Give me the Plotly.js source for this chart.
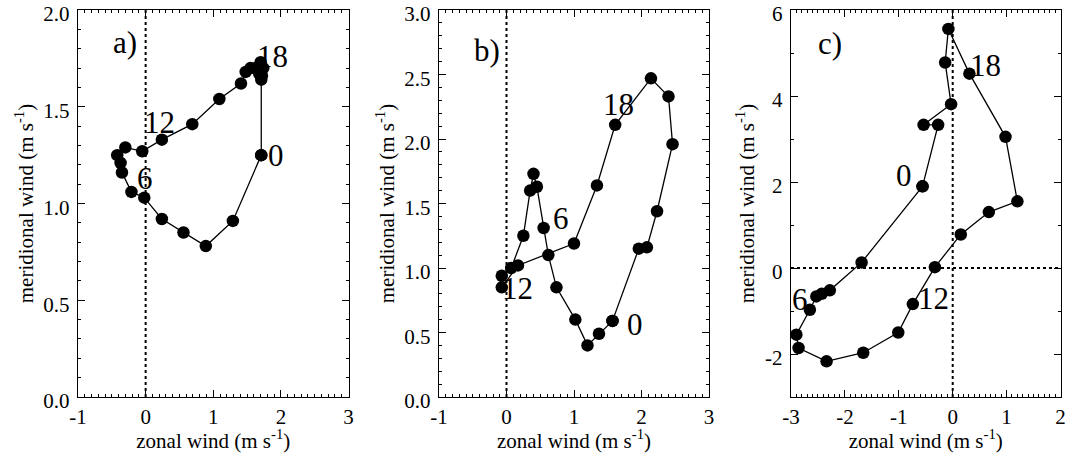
<!DOCTYPE html>
<html>
<head>
<meta charset="utf-8">
<script src="https://cdn.plot.ly/plotly-3.0.1.min.js"></script>
<style>
html,body{margin:0;padding:0;background:#fff;}
#chart{width:1065px;height:453px;}
</style>
</head>
<body>
<div id="chart"></div>
<script>
// Panel a) hourly wind hodograph (hour 0..23)
const aU = [1.71,1.29,0.89,0.56,0.24,-0.02,-0.21,-0.35,-0.37,-0.42,-0.30,-0.05,0.24,0.69,1.09,1.41,1.48,1.55,1.63,1.70,1.74,1.68,1.72,1.71];
const aV = [1.25,0.91,0.78,0.85,0.92,1.03,1.06,1.16,1.21,1.25,1.29,1.27,1.33,1.41,1.54,1.62,1.68,1.70,1.70,1.73,1.70,1.67,1.66,1.64];
// Panel b)
const bU = [1.57,1.37,1.20,1.02,0.74,0.62,0.55,0.45,0.40,0.35,0.25,0.07,-0.07,-0.07,0.17,1.00,1.34,1.61,2.14,2.40,2.46,2.23,2.08,1.96];
const bV = [0.59,0.49,0.40,0.60,0.85,1.10,1.31,1.63,1.73,1.60,1.25,1.00,0.94,0.85,1.02,1.19,1.64,2.11,2.47,2.33,1.96,1.44,1.16,1.15];
// Panel c)
const cU = [-0.56,-1.69,-2.28,-2.43,-2.53,-2.65,-2.90,-2.86,-2.34,-1.66,-1.01,-0.74,-0.33,0.15,0.67,1.20,0.98,0.31,-0.08,-0.14,-0.03,-0.54,-0.27];
const cV = [1.90,0.13,-0.52,-0.60,-0.66,-0.97,-1.55,-1.86,-2.17,-1.97,-1.50,-0.84,0.02,0.78,1.30,1.55,3.05,4.52,5.56,4.78,3.81,3.33,3.33];

// Hour labels and their positions (data units)
const hourText = ["0","6","12","18"];
const aLabU = [1.93,-0.015,0.21,1.88], aLabV = [1.25,1.13,1.42,1.76];
const bLabU = [1.91,0.81,0.17,1.66],  bLabV = [0.565,1.38,0.845,2.27];
const cLabU = [-0.90,-2.84,-0.36,0.60], cLabV = [2.14,-0.74,-0.70,4.72];

// Tick values and labels
const abXTicks = [-1,0,1,2,3], abXText = ["-1","0","1","2","3"];
const cXTicks = [-3,-2,-1,0,1,2], cXText = ["-3","-2","-1","0","1","2"];
const aYTicks = [0,0.5,1,1.5,2], aYText = ["0.0","0.5","1.0","1.5","2.0"];
const bYTicks = [0,0.5,1,1.5,2,2.5,3], bYText = ["0.0","0.5","1.0","1.5","2.0","2.5","3.0"];
const cYTicks = [-2,0,2,4,6], cYText = ["-2","0","2","4","6"];

const panelNames = ["a)","b)","c)"];
const xTitle = "zonal wind (m s<sup>-1</sup>)";
const yTitle = "meridional wind (m s<sup>-1</sup>)";

const FONT = "Liberation Serif, Times New Roman, serif";
const close = arr => arr.concat([arr[0]]);

function hodo(u, v, xa, ya) {
  return {x: close(u), y: close(v), xaxis: xa, yaxis: ya, type: 'scatter', mode: 'lines+markers',
    line: {color: '#000', width: 1.3}, marker: {color: '#000', size: 12.5}, hoverinfo: 'skip', showlegend: false,
    cliponaxis: false};
}
const data = [hodo(aU,aV,'x','y'), hodo(bU,bV,'x2','y2'), hodo(cU,cV,'x3','y3')];

const shapes = [];
['x','x2','x3'].forEach(ax => {
  shapes.push({type:'line', xref: ax, yref: (ax==='x'?'y':'y'+ax.slice(1)) + ' domain', x0:0, x1:0, y0:0, y1:1,
    line:{color:'#000', width:2, dash:'dot'}, layer:'below'});
});
shapes.push({type:'line', xref:'x3 domain', yref:'y3', x0:0, x1:1, y0:0, y1:0, line:{color:'#000', width:2, dash:'dot'}, layer:'below'});

const annotations = [];
function addLabels(U, V, xa, ya) {
  hourText.forEach((t,i) => annotations.push({x: U[i], y: V[i], xref: xa, yref: ya, text: t, showarrow: false,
    xanchor: 'center', yanchor: 'middle', font:{family: FONT, size: 31, color:'#000'}}));
}
addLabels(aLabU, aLabV, 'x', 'y');
addLabels(bLabU, bLabV, 'x2', 'y2');
addLabels(cLabU, cLabV, 'x3', 'y3');
const panelPos = [[0.174,0.917],[0.177,0.896],[0.144,0.914]];
['x','x2','x3'].forEach((ax,i) => annotations.push({x: panelPos[i][0], y: panelPos[i][1], xref: ax+' domain',
  yref: (i===0?'y':'y'+(i+1))+' domain', text: panelNames[i], showarrow:false, xanchor:'center', yanchor:'middle',
  font:{family: FONT, size: 31, color:'#000'}}));

function xaxis(dom, range, tv, tt) {
  return {domain: dom, range: range, tickmode: 'array', tickvals: tv, ticktext: tt,
    ticks: 'inside', ticklen: 7, tickwidth: 1, tickcolor:'#000',
    minor: {dtick: 0.1, tick0: 0, ticks: 'inside', ticklen: 3, tickcolor:'#000', showgrid:false},
    showline: true, linecolor: '#000', linewidth: 1.3, mirror: 'allticks', showgrid: false, zeroline: false,
    tickfont: {family: FONT, size: 21, color:'#000'}, ticklabelstandoff: 0, ticklabeloverflow: 'allow',
    title: {text: xTitle, font: {family: FONT, size: 21, color:'#000'}, standoff: 9}, fixedrange: true};
}
function yaxis(dom, range, tv, tt, minor, anchor) {
  return {domain: dom, range: range, tickmode: 'array', tickvals: tv, ticktext: tt,
    ticks: 'inside', ticklen: 7, tickwidth: 1, tickcolor:'#000',
    minor: {dtick: minor, tick0: 0, ticks: 'inside', ticklen: 3, tickcolor:'#000', showgrid:false},
    showline: true, linecolor: '#000', linewidth: 1.3, mirror: 'allticks', showgrid: false, zeroline: false,
    anchor: anchor, ticklabeloverflow: 'allow', ticklabelshift: 4,
    tickfont: {family: FONT, size: 21, color:'#000'}, ticklabelstandoff: 3,
    title: {text: yTitle, font: {family: FONT, size: 21, color:'#000'}, standoff: 4}, fixedrange: true};
}
const yd = [56/453, 443/453];
const layout = {
  width: 1065, height: 453, margin: {l:0, r:0, t:0, b:0}, paper_bgcolor:'#fff', plot_bgcolor:'#fff',
  font: {family: FONT, color:'#000'}, showlegend: false,
  xaxis: Object.assign(xaxis([78/1065, 348.5/1065], [-1,3], abXTicks, abXText), {anchor:'y'}),
  yaxis: yaxis(yd, [0,2], aYTicks, aYText, 0.1, 'x'),
  xaxis2: Object.assign(xaxis([439/1065, 709/1065], [-1,3], abXTicks, abXText), {anchor:'y2'}),
  yaxis2: yaxis(yd, [0,3], bYTicks, bYText, 0.1, 'x2'),
  xaxis3: Object.assign(xaxis([791/1065, 1060.5/1065], [-3,2], cXTicks, cXText), {anchor:'y3'}),
  yaxis3: yaxis(yd, [-3,6], cYTicks, cYText, 1, 'x3'),
  shapes: shapes, annotations: annotations
};
Plotly.newPlot('chart', data, layout, {staticPlot: true, displayModeBar: false});
</script>
</body>
</html>
